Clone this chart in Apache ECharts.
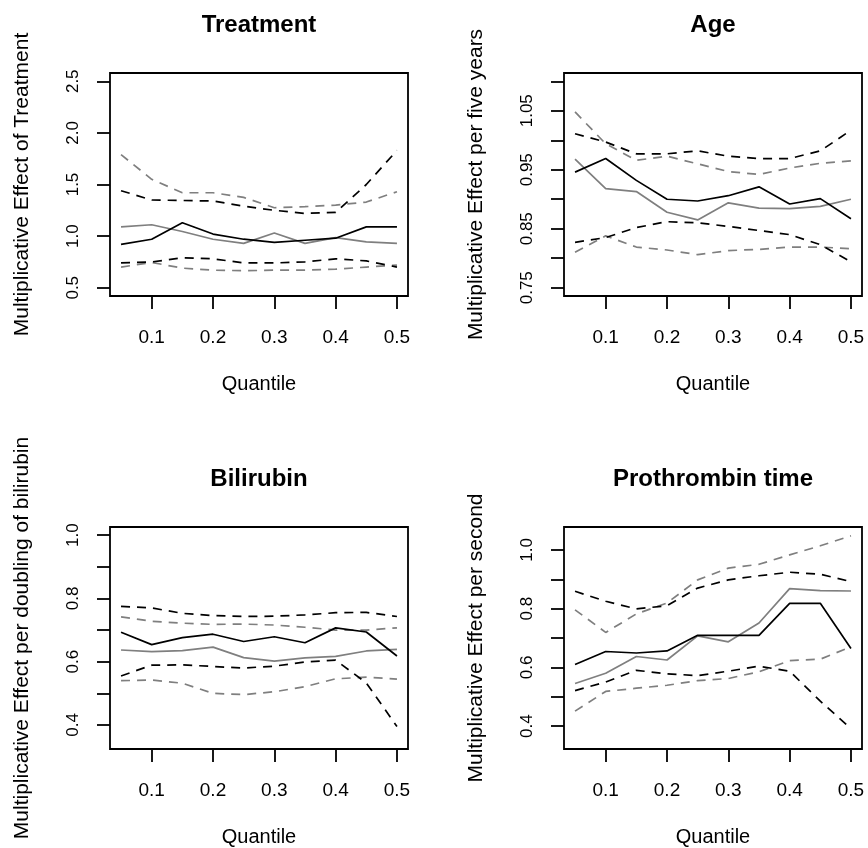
<!DOCTYPE html>
<html>
<head>
<meta charset="utf-8">
<script src="https://cdn.jsdelivr.net/npm/echarts@6/dist/echarts.min.js"></script>
<style>
  html, body { margin: 0; padding: 0; background: #ffffff; }
  #chart { width: 868px; height: 848px; }
</style>
</head>
<body>
<div id="chart"></div>
<script>
// Quantile levels shared by every panel
const quantiles = [0.05, 0.10, 0.15, 0.20, 0.25, 0.30, 0.35, 0.40, 0.45, 0.50];
const xTicks = [0.1, 0.2, 0.3, 0.4, 0.5];
const xTickLabels = ['0.1', '0.2', '0.3', '0.4', '0.5'];
const xLim = [0.05, 0.5];

// Treatment: estimate and band for fit A (black) and fit B (grey)
const treatEstA  = [0.92, 0.97, 1.13, 1.02, 0.97, 0.94, 0.96, 0.98, 1.09, 1.09];
const treatLowA  = [0.74, 0.75, 0.79, 0.78, 0.74, 0.74, 0.75, 0.78, 0.76, 0.70];
const treatHighA = [1.44, 1.35, 1.345, 1.34, 1.29, 1.25, 1.22, 1.23, 1.50, 1.83];
const treatEstB  = [1.09, 1.11, 1.045, 0.97, 0.93, 1.03, 0.93, 0.985, 0.945, 0.93];
const treatLowB  = [0.70, 0.745, 0.69, 0.67, 0.665, 0.67, 0.67, 0.68, 0.70, 0.72];
const treatHighB = [1.79, 1.55, 1.42, 1.42, 1.375, 1.275, 1.285, 1.30, 1.33, 1.43];
const treatYLim = [0.5, 2.5];
const treatYTicks = [0.5, 1.0, 1.5, 2.0, 2.5];
const treatYLabelAt = [0.5, 1.0, 1.5, 2.0, 2.5];
const treatYLabels = ['0.5', '1.0', '1.5', '2.0', '2.5'];

// Age (per five years)
const ageEstA  = [0.946, 0.969, 0.932, 0.900, 0.897, 0.906, 0.921, 0.892, 0.901, 0.867];
const ageLowA  = [0.827, 0.835, 0.852, 0.862, 0.860, 0.854, 0.847, 0.840, 0.823, 0.794];
const ageHighA = [1.011, 0.997, 0.977, 0.977, 0.982, 0.973, 0.969, 0.969, 0.982, 1.017];
const ageEstB  = [0.968, 0.918, 0.913, 0.878, 0.865, 0.894, 0.885, 0.884, 0.888, 0.900];
const ageLowB  = [0.810, 0.838, 0.819, 0.814, 0.806, 0.813, 0.815, 0.819, 0.819, 0.816];
const ageHighB = [1.048, 0.994, 0.966, 0.973, 0.960, 0.947, 0.942, 0.953, 0.961, 0.965];
const ageYLim = [0.75, 1.10];
const ageYTicks = [0.75, 0.80, 0.85, 0.90, 0.95, 1.00, 1.05, 1.10];
const ageYLabelAt = [0.75, 0.85, 0.95, 1.05];
const ageYLabels = ['0.75', '0.85', '0.95', '1.05'];

// Bilirubin (per doubling)
const biliEstA  = [0.693, 0.654, 0.676, 0.687, 0.664, 0.679, 0.660, 0.707, 0.694, 0.618];
const biliLowA  = [0.555, 0.589, 0.590, 0.585, 0.580, 0.586, 0.599, 0.605, 0.533, 0.395];
const biliHighA = [0.775, 0.770, 0.753, 0.746, 0.743, 0.744, 0.748, 0.755, 0.756, 0.743];
const biliEstB  = [0.637, 0.632, 0.635, 0.646, 0.613, 0.602, 0.612, 0.617, 0.634, 0.639];
const biliLowB  = [0.540, 0.542, 0.532, 0.500, 0.496, 0.505, 0.521, 0.546, 0.551, 0.545];
const biliHighB = [0.742, 0.728, 0.722, 0.718, 0.719, 0.716, 0.709, 0.700, 0.700, 0.707];
const biliYLim = [0.35, 1.0];
const biliYTicks = [0.4, 0.5, 0.6, 0.7, 0.8, 0.9, 1.0];
const biliYLabelAt = [0.4, 0.6, 0.8, 1.0];
const biliYLabels = ['0.4', '0.6', '0.8', '1.0'];

// Prothrombin time (per second)
const protEstA  = [0.610, 0.654, 0.649, 0.656, 0.709, 0.709, 0.709, 0.818, 0.818, 0.664];
const protLowA  = [0.521, 0.550, 0.590, 0.578, 0.572, 0.587, 0.604, 0.587, 0.485, 0.391];
const protHighA = [0.859, 0.825, 0.799, 0.810, 0.870, 0.898, 0.912, 0.924, 0.917, 0.892];
const protEstB  = [0.545, 0.580, 0.637, 0.625, 0.707, 0.687, 0.751, 0.868, 0.861, 0.860];
const protLowB  = [0.451, 0.518, 0.529, 0.539, 0.555, 0.562, 0.585, 0.623, 0.628, 0.670];
const protHighB = [0.796, 0.719, 0.782, 0.819, 0.898, 0.938, 0.951, 0.983, 1.014, 1.048];
const protYLim = [0.35, 1.05];
const protYTicks = [0.4, 0.5, 0.6, 0.7, 0.8, 0.9, 1.0];
const protYLabelAt = [0.4, 0.6, 0.8, 1.0];
const protYLabels = ['0.4', '0.6', '0.8', '1.0'];

const FONT = '"Liberation Sans", Arial, Helvetica, sans-serif';
const BLACK = '#000000';
const GREY = '#7f7f7f';
const LW = 1.7;
const DASH = [9, 7];

const panels = [
  { title: 'Treatment', ylab: 'Multiplicative Effect of Treatment',
    grid: { left: 110, top: 73, width: 298, height: 223 },
    yLim: treatYLim, yTicks: treatYTicks, yLabelAt: treatYLabelAt, yLabels: treatYLabels,
    A: [treatEstA, treatLowA, treatHighA], B: [treatEstB, treatLowB, treatHighB] },
  { title: 'Age', ylab: 'Multiplicative Effect per five years',
    grid: { left: 564, top: 73, width: 298, height: 223 },
    yLim: ageYLim, yTicks: ageYTicks, yLabelAt: ageYLabelAt, yLabels: ageYLabels,
    A: [ageEstA, ageLowA, ageHighA], B: [ageEstB, ageLowB, ageHighB] },
  { title: 'Bilirubin', ylab: 'Multiplicative Effect per doubling of bilirubin',
    grid: { left: 110, top: 527, width: 298, height: 222 },
    yLim: biliYLim, yTicks: biliYTicks, yLabelAt: biliYLabelAt, yLabels: biliYLabels,
    A: [biliEstA, biliLowA, biliHighA], B: [biliEstB, biliLowB, biliHighB] },
  { title: 'Prothrombin time', ylab: 'Multiplicative Effect per second',
    grid: { left: 564, top: 527, width: 298, height: 222 },
    yLim: protYLim, yTicks: protYTicks, yLabelAt: protYLabelAt, yLabels: protYLabels,
    A: [protEstA, protLowA, protHighA], B: [protEstB, protLowB, protHighB] }
];

// plot-region padding: 4% of the data range on each side
function padded(lim) {
  const d = (lim[1] - lim[0]) * 0.04;
  return [lim[0] - d, lim[1] + d];
}
const xRange = padded(xLim);

function pairs(ys) { return quantiles.map((q, i) => [q, ys[i]]); }

const grids = [], xAxes = [], yAxes = [], series = [], graphics = [];

panels.forEach((p, k) => {
  grids.push(Object.assign({
    show: true, borderColor: BLACK, borderWidth: 1.8, backgroundColor: 'transparent'
  }, p.grid));

  xAxes.push({
    type: 'value', gridIndex: k, min: xRange[0], max: xRange[1],
    axisLine: { show: false }, splitLine: { show: false },
    axisTick: { show: true, customValues: xTicks, length: 13, lineStyle: { color: BLACK, width: 1.8 } },
    axisLabel: {
      customValues: xTicks, margin: 32, fontSize: 19, fontFamily: FONT, color: BLACK,
      formatter: v => xTickLabels[xTicks.findIndex(t => Math.abs(t - v) < 1e-9)]
    },
    name: 'Quantile', nameLocation: 'middle', nameGap: 78,
    nameTextStyle: { fontSize: 20, fontFamily: FONT, color: BLACK }
  });

  const yr = padded(p.yLim);
  yAxes.push({
    type: 'value', gridIndex: k, min: yr[0], max: yr[1],
    axisLine: { show: false }, splitLine: { show: false },
    axisTick: { show: true, customValues: p.yTicks, length: 13, lineStyle: { color: BLACK, width: 1.8 } },
    axisLabel: {
      customValues: p.yLabelAt, rotate: 90, margin: 28, fontSize: 17, fontFamily: FONT, color: BLACK,
      formatter: v => p.yLabels[p.yLabelAt.findIndex(t => Math.abs(t - v) < 1e-9)]
    },
    name: p.ylab, nameLocation: 'middle', nameRotate: 90, nameGap: 77,
    nameTextStyle: { fontSize: 21, fontFamily: FONT, color: BLACK }
  });

  // grey fit first, black fit on top
  [[p.B, GREY], [p.A, BLACK]].forEach(([set, col]) => {
    set.forEach((ys, j) => {
      series.push({
        type: 'line', xAxisIndex: k, yAxisIndex: k, data: pairs(ys),
        showSymbol: false, symbol: 'none', silent: true,
        lineStyle: { color: col, width: LW, type: j === 0 ? 'solid' : DASH }
      });
    });
  });

  const cx = p.grid.left + p.grid.width / 2;
  graphics.push({
    type: 'text', x: cx, y: p.grid.top - 48,
    style: { text: p.title, align: 'center', verticalAlign: 'middle',
             font: 'bold 24px ' + FONT, fill: BLACK }
  });
});

const chart = echarts.init(document.getElementById('chart'), null, { renderer: 'canvas' });
chart.setOption({
  animation: false,
  backgroundColor: '#ffffff',
  grid: grids,
  xAxis: xAxes,
  yAxis: yAxes,
  series: series,
  graphic: graphics
});
</script>
</body>
</html>
